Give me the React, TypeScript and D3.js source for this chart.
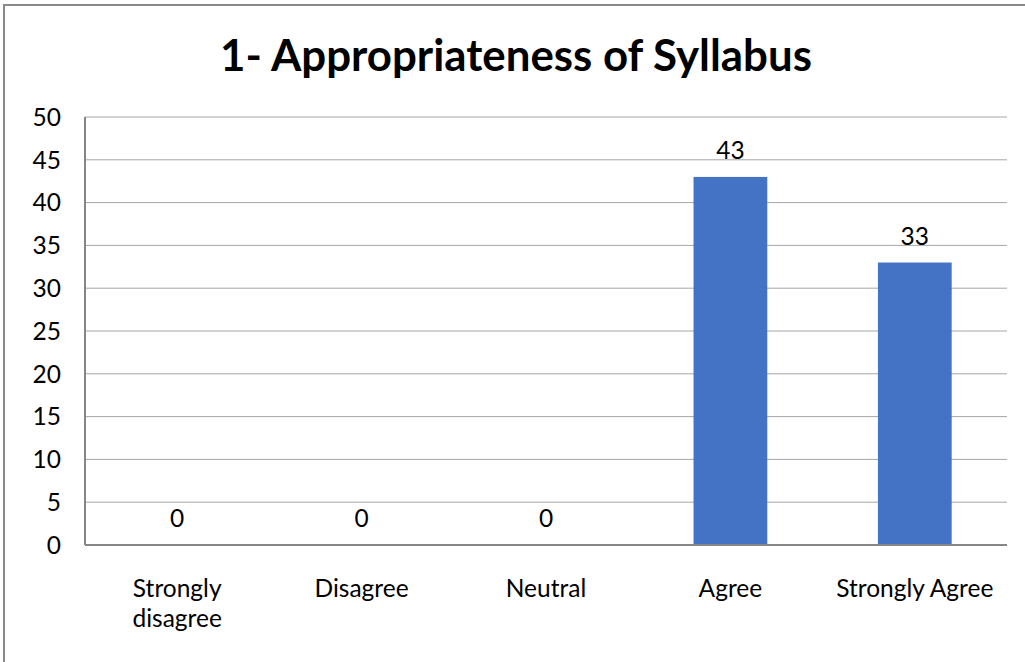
import React from "react";
import { scaleBand, scaleLinear } from "d3";

const categories = ["Strongly disagree", "Disagree", "Neutral", "Agree", "Strongly Agree"];
const categoryLines = [["Strongly", "disagree"], ["Disagree"], ["Neutral"], ["Agree"], ["Strongly Agree"]];
const values = [0, 0, 0, 43, 33];
const yTicks = [0, 5, 10, 15, 20, 25, 30, 35, 40, 45, 50];
const title = "1- Appropriateness of Syllabus";

export default function App() {
  const width = 1025,
    height = 662,
    marginLeft = 85,
    marginRight = 18,
    marginTop = 117,
    plotBottom = 545;
  const font = "Lato, 'Open Sans', sans-serif";
  const labelSize = 24.5;

  const xScale = scaleBand<string>()
    .domain(categories)
    .range([marginLeft, width - marginRight])
    .paddingInner(0.6)
    .paddingOuter(0.3);

  const yScale = scaleLinear().domain([0, 50]).range([plotBottom, marginTop]);

  return (
    <svg
      width={width}
      height={height}
      style={{ position: "absolute", left: 0, top: 0, background: "#fff" }}
    >
      {/* outer frame: only top and left edges are visible */}
      <rect x={4} y={5} width={1040} height={680} fill="#fff" stroke="#898989" strokeWidth={2} />
      <text
        x={516}
        y={71}
        textAnchor="middle"
        style={{ fontFamily: font, fontSize: 43.8, fontWeight: 700, fill: "#000" }}
      >
        {title}
      </text>
      {yTicks.map(t => (
        <g key={t}>
          {t > 0 && (
            <line
              x1={marginLeft}
              x2={width - marginRight}
              y1={yScale(t)}
              y2={yScale(t)}
              stroke="#a6a6a6"
              strokeWidth={1}
            />
          )}
          <text
            x={61}
            y={yScale(t)}
            dy="0.36em"
            textAnchor="end"
            style={{ fontFamily: font, fontSize: labelSize, fill: "#000" }}
          >
            {t}
          </text>
        </g>
      ))}
      {categories.map((c, i) => {
        const cx = xScale(c)! + xScale.bandwidth() / 2;
        return (
          <g key={c}>
            {values[i] > 0 && (
              <rect
                x={xScale(c)}
                y={yScale(values[i])}
                width={xScale.bandwidth()}
                height={plotBottom - yScale(values[i])}
                fill="#4472c4"
              />
            )}
            <text
              x={cx}
              y={yScale(values[i]) - 18}
              textAnchor="middle"
              style={{ fontFamily: font, fontSize: labelSize, fill: "#000" }}
            >
              {values[i]}
            </text>
            {categoryLines[i].map((line, j) => (
              <text
                key={j}
                x={cx}
                y={597 + j * 29.5}
                textAnchor="middle"
                style={{ fontFamily: font, fontSize: labelSize, fill: "#000" }}
              >
                {line}
              </text>
            ))}
          </g>
        );
      })}
      <line x1={marginLeft} x2={marginLeft} y1={marginTop} y2={plotBottom} stroke="#868686" strokeWidth={2} />
      <line x1={marginLeft} x2={width - marginRight} y1={plotBottom} y2={plotBottom} stroke="#868686" strokeWidth={2} />
    </svg>
  );
}
